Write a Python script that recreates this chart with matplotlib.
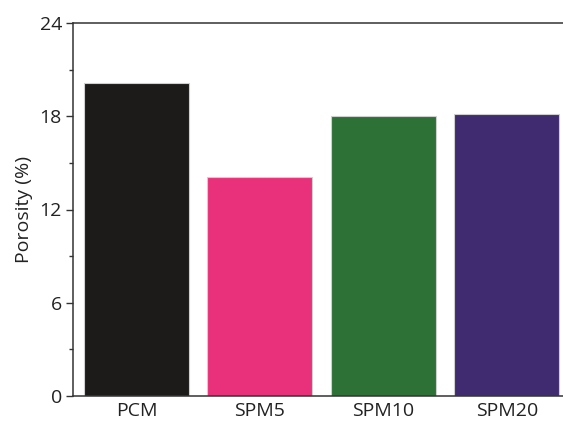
import matplotlib
matplotlib.use("Agg")
import matplotlib.pyplot as plt
from matplotlib.ticker import MultipleLocator

categories = ["PCM", "SPM5", "SPM10", "SPM20"]
porosity = [20.15, 14.1, 18.0, 18.15]
colors = ["#1c1b19", "#e8317a", "#2e7136", "#402a70"]
yticks = [0, 6, 12, 18, 24]

plt.rcParams['font.family'] = ['Open Sans', 'DejaVu Sans']

fig = plt.figure(figsize=(5.63, 4.22), dpi=100)
W, H = 563, 422
left, right, top, bottom = 73, 580, 23, 396
ax = fig.add_axes([left / W, 1 - bottom / H, (right - left) / W, (bottom - top) / H])

x = range(len(categories))
ax.bar(x, porosity, width=0.85, color=colors, edgecolor="#cfcfcf", linewidth=0.8, zorder=2)

ax.set_xlim(-0.514, -0.514 + (right - left) / 123.5)
ax.set_ylim(0, 24)
ax.set_yticks(yticks)
ax.yaxis.set_minor_locator(MultipleLocator(3))
ax.set_xticks(list(x))
ax.set_xticklabels(categories)

for s in ax.spines.values():
    s.set_linewidth(1.1)
    s.set_color("#333333")

ax.tick_params(axis='y', which='major', direction='out', length=5, width=1.0, labelsize=14, pad=3, colors="#333333", labelcolor="#222222")
ax.tick_params(axis='y', which='minor', direction='out', length=3, width=1.0, colors="#333333")
ax.tick_params(axis='x', length=0, labelsize=14, pad=4, labelcolor="#222222")
ax.set_ylabel("Porosity (%)", fontsize=14, color="#222222", labelpad=5)

fig.savefig("out.png", dpi=100)
